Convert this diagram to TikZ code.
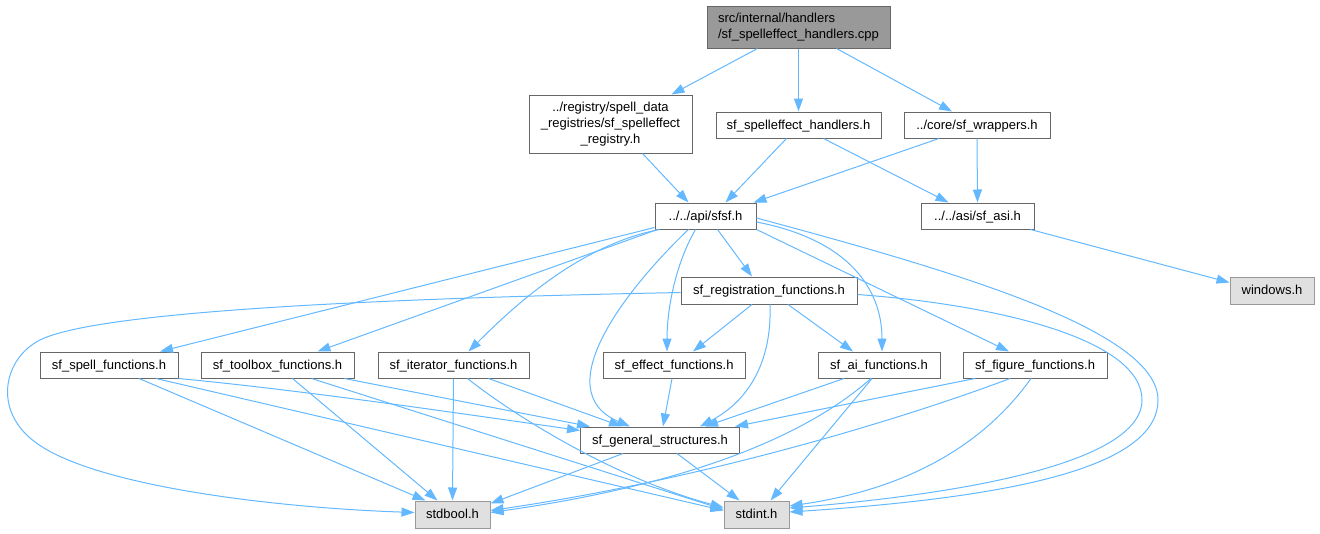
\documentclass[tikz,border=0pt]{standalone}
\usepackage{fontspec}
\setmainfont{Liberation Sans}
\usetikzlibrary{arrows.meta}
\definecolor{edgeblue}{HTML}{63B8FF}
\definecolor{boxline}{HTML}{666666}
\definecolor{rootfill}{HTML}{999999}
\definecolor{sysline}{HTML}{999999}
\definecolor{sysfill}{HTML}{E0E0E0}
\tikzset{
    file/.style={draw=boxline, line width=1pt, fill=white, inner sep=0pt, minimum height=26pt,
        font=\fontsize{13}{16}\selectfont, align=center},
    oneline/.style={file, text height=10.5pt, text depth=2pt},
    rootfile/.style={file, fill=rootfill},
    sysfile/.style={oneline, draw=sysline, fill=sysfill, minimum height=27pt},
    dep/.style={draw=edgeblue, line width=1pt, -{Triangle[length=13pt,width=9pt]}}
}
\begin{document}
\begin{tikzpicture}[x=1pt,y=-1pt]

        \useasboundingbox (0,0) rectangle (1320,533);

        \node[rootfile, minimum width=183pt, minimum height=42pt, align=left] (src) at (798.5,27) {src/internal/handlers\\/sf\_spelleffect\_handlers.cpp};
        \node[file, minimum width=163pt, minimum height=58pt] (reg) at (610.5,124) {../registry/spell\_data\\\_registries/sf\_spelleffect\\\_registry.h};
        \node[oneline, minimum width=165pt] (seh) at (798.5,125) {sf\_spelleffect\_handlers.h};
        \node[oneline, minimum width=146pt] (wrap) at (977,125) {../core/sf\_wrappers.h};
        \node[oneline, minimum width=101pt] (api) at (705.5,216) {../../api/sfsf.h};
        \node[oneline, minimum width=113pt] (asi) at (977.5,216) {../../asi/sf\_asi.h};
        \node[sysfile, minimum width=84pt] (win) at (1272,290.5) {windows.h};
        \node[oneline, minimum width=176pt, minimum height=27pt] (regf) at (769,290.5) {sf\_registration\_functions.h};
        \node[oneline, minimum width=138pt] (spell) at (109,365) {sf\_spell\_functions.h};
        \node[oneline, minimum width=153pt] (toolbox) at (277.5,365) {sf\_toolbox\_functions.h};
        \node[oneline, minimum width=151pt] (iter) at (453.5,365) {sf\_iterator\_functions.h};
        \node[oneline, minimum width=142pt] (effect) at (674,365) {sf\_effect\_functions.h};
        \node[oneline, minimum width=122pt] (ai) at (879,365) {sf\_ai\_functions.h};
        \node[oneline, minimum width=144pt] (figure) at (1035,365) {sf\_figure\_functions.h};
        \node[oneline, minimum width=159pt] (general) at (660,440) {sf\_general\_structures.h};
        \node[sysfile, minimum width=75pt] (stdbool) at (452.5,514.5) {stdbool.h};
        \node[sysfile, minimum width=65pt] (stdint) at (756.5,514.5) {stdint.h};

        \draw[dep] ([xshift=-41pt]src.south) -- ([xshift=61pt]reg.north);
        \draw[dep] (src.south) -- (seh.north);
        \draw[dep] ([xshift=38pt]src.south) -- ([xshift=-25pt]wrap.north);
        \draw[dep] ([xshift=32pt]reg.south) -- ([xshift=-17pt]api.north);
        \draw[dep] ([xshift=-12pt]seh.south) -- ([xshift=20pt]api.north);
        \draw[dep] ([xshift=25pt]seh.south) -- ([xshift=-29pt]asi.north);
        \draw[dep] ([xshift=-38pt]wrap.south) -- ([xshift=-3pt]api.north east);
        \draw[dep] (wrap.south) -- (asi.north);
        \draw[dep] ([xshift=-4pt]asi.south east) -- ([yshift=8pt]win.west);

        \draw[dep] ([yshift=2pt]api.south west) -- ([xshift=51pt]spell.north);
        \draw[dep] ([xshift=3pt]api.south west) -- ([xshift=40pt]toolbox.north);
        \draw[dep] ([xshift=5pt]api.south west) .. controls (580,245) and (515,305) .. ([xshift=15pt]iter.north);
        \draw[dep] ([xshift=-17pt]api.south) .. controls (630,285) and (545,390) .. ([xshift=-30pt]general.north);
        \draw[dep] ([xshift=-10pt]api.south) .. controls (675,265) and (667,310) .. ([xshift=-7pt]effect.north);
        \draw[dep] ([xshift=12pt]api.south) -- ([xshift=-17pt]regf.north);
        \draw[dep] ([yshift=-6pt]api.east) .. controls (850,240) and (882,290) .. ([xshift=3pt]ai.north);
        \draw[dep] (api.south east) -- ([xshift=-26pt]figure.north);
        \draw[dep] ([yshift=-2pt]api.east) .. controls (950,270) and (1158,330) .. (1158,400) .. controls (1158,470) and (1000,498) .. ([yshift=2.5pt]stdint.east);

        \draw[dep] ([yshift=-2pt]regf.west) .. controls (400,298) and (100,310) .. (40,340) .. controls (4,358) and (-8,410) .. (35,442) .. controls (95,487) and (280,508) .. ([yshift=2pt]stdbool.west);
        \draw[dep] ([xshift=-17pt]regf.south) -- ([xshift=19pt]effect.north);
        \draw[dep] ([xshift=1pt]regf.south) .. controls (772,360) and (750,400) .. ([xshift=40pt]general.north);
        \draw[dep] ([xshift=19pt]regf.south) -- ([xshift=-26pt]ai.north);
        \draw[dep] ([yshift=-4pt]regf.east) .. controls (1000,305) and (1142,340) .. (1142,400) .. controls (1142,465) and (950,495) .. ([yshift=6.5pt]stdint.east);

        \draw[dep] (spell.south east) .. controls (300,390) and (450,412) .. ([yshift=-4pt]general.north west);
        \draw[dep] ([xshift=30pt]spell.south) -- ([xshift=-27pt]stdbool.north);
        \draw[dep] ([xshift=47pt]spell.south) -- ([yshift=4pt]stdint.west);
        \draw[dep] ([xshift=67pt]toolbox.south) -- ([xshift=-70pt]general.north);
        \draw[dep] ([xshift=15pt]toolbox.south) -- ([xshift=-15pt]stdbool.north);
        \draw[dep] ([xshift=34pt]toolbox.south) -- ([yshift=5pt]stdint.west);
        \draw[dep] ([xshift=35pt]iter.south) -- ([xshift=-38pt]general.north);
        \draw[dep] (iter.south) -- (stdbool.north);
        \draw[dep] ([xshift=14pt]iter.south) .. controls (520,420) and (620,480) .. ([yshift=7pt]stdint.west);
        \draw[dep] ([xshift=-2pt]effect.south) -- ([xshift=3pt]general.north);
        \draw[dep] ([xshift=-35pt]ai.south) -- ([xshift=45pt]general.north);
        \draw[dep] ([xshift=-8pt]ai.south) .. controls (790,450) and (650,490) .. ([yshift=2pt]stdbool.east);
        \draw[dep] ([xshift=-7pt]ai.south) -- ([xshift=14pt]stdint.north);
        \draw[dep] ([xshift=-60pt]figure.south) -- ([xshift=75pt]general.north);
        \draw[dep] ([xshift=-25pt]figure.south) .. controls (900,420) and (700,480) .. ([yshift=4pt]stdbool.east);
        \draw[dep] ([xshift=-4pt]figure.south) .. controls (980,450) and (900,490) .. ([yshift=8.5pt]stdint.east);
        \draw[dep] ([xshift=-37pt]general.south) -- ([yshift=-3pt]stdbool.north east);
        \draw[dep] ([xshift=17pt]general.south) -- ([xshift=-17pt]stdint.north);
    \end{tikzpicture}
\end{document}
